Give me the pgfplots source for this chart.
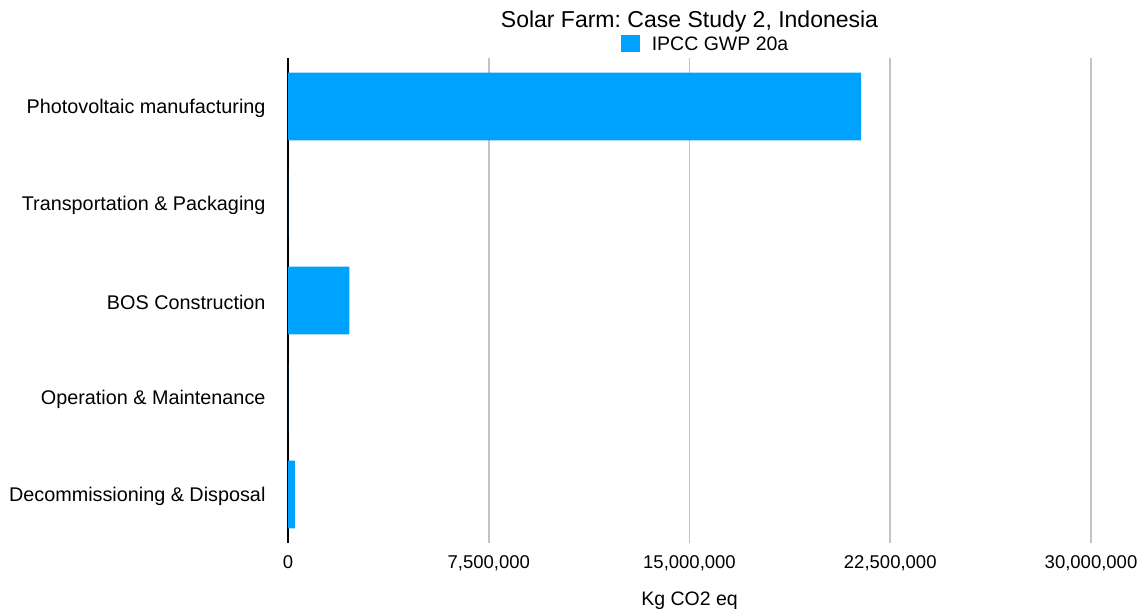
\documentclass[border=0pt]{standalone}
\usepackage{pgfplots}
\pgfplotsset{compat=1.18}
\usepackage{fontspec}
\setmainfont{Liberation Sans}
\frenchspacing
\definecolor{barblue}{HTML}{00A2FF}
\definecolor{gridgray}{HTML}{C4C4C4}
\begin{document}
\begin{tikzpicture}[x=1pt,y=1pt]
\useasboundingbox (0,0) rectangle (1145,610);
\begin{axis}[
    at={(288pt,67pt)}, anchor=south west,
    scale only axis,
    width=803pt, height=485pt,
    xbar, bar width=0.7,
    xmin=0, xmax=30000000,
    ymin=-0.5, ymax=4.5,
    y dir=reverse,
    ytick={0,1,2,3,4},
    yticklabels={Photovoltaic manufacturing, Transportation \& Packaging, BOS Construction, Operation \& Maintenance, Decommissioning \& Disposal},
    xtick={0,7500000,15000000,22500000,30000000},
    xticklabels={0,{7,500,000},{15,000,000},{22,500,000},{30,000,000}},
    scaled x ticks=false,
    axis y line*=left,
    axis x line*=bottom,
    x axis line style={draw=none},
    y axis line style={black, line width=1.6pt},
    major tick length=0pt,
    xmajorgrids,
    grid style={gridgray, line width=1.6pt},
    /pgf/number format/assume math mode=true,
    yticklabel style={font=\fontsize{19.8}{22}\selectfont, xshift=-19pt, yshift=-2pt},
    xticklabel style={font=\fontsize{18.5}{22}\selectfont, yshift=-9pt},
    xlabel={Kg CO2 eq},
    xlabel style={font=\fontsize{19.5}{22}\selectfont, yshift=-14pt},
    title={Solar Farm: Case Study 2, Indonesia},
    title style={font=\fontsize{23}{26}\selectfont, yshift=16pt},
    legend style={draw=none, at={(0.52,1.004)}, anchor=south, font=\fontsize{19.5}{22}\selectfont, fill=none,
        /tikz/every even column/.append style={column sep=0pt}},
    legend image code/.code={\fill[barblue] (-2pt,-8pt) rectangle (17pt,9pt);},
    legend cell align=left,
    clip=false,
]
\addplot[fill=barblue, draw=none] coordinates {
    (21410000,0)
    (0,1)
    (2290000,2)
    (0,3)
    (260000,4)
};
\addlegendentry{\hspace{10pt}IPCC GWP 20a}
\end{axis}
\end{tikzpicture}
\end{document}
